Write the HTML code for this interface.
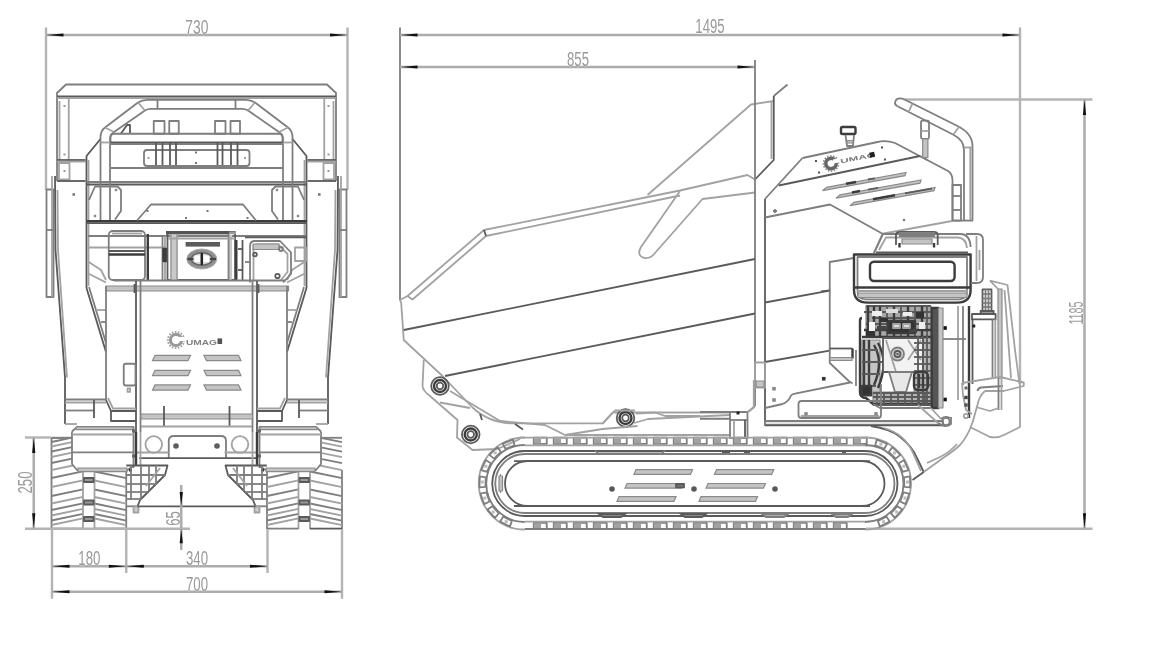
<!DOCTYPE html>
<html><head><meta charset="utf-8"><title>Dumper dimensions</title>
<style>
html,body{margin:0;padding:0;background:#fff;}
body{width:1152px;height:648px;overflow:hidden;font-family:"Liberation Sans",sans-serif;}
svg{display:block;filter:blur(0.55px);}
path,rect,circle,ellipse,polyline{fill:none;stroke-linecap:butt;stroke-linejoin:round;}
.x{stroke:#b4b4b4;stroke-width:2.4;}
.dm{stroke:#acacac;stroke-width:2.5;}
.l{stroke:#a2a2a2;stroke-width:1.8;}
.m{stroke:#7e7e7e;stroke-width:1.8;}
.d{stroke:#5a5a5a;stroke-width:1.8;}
.k{stroke:#3c3c3c;stroke-width:2.4;}
.g{stroke:#8a8a8a;stroke-width:1.2;fill:#c4c4c4;}
.ar{fill:#111;stroke:none;}
.t{font-family:"Liberation Sans",sans-serif;fill:#9a9a9a;text-anchor:middle;stroke:#fff;stroke-width:0.5;paint-order:stroke;}
</style></head><body>
<svg width="1152" height="648" viewBox="0 0 1152 648">
<path class="x" d="M46,27.5 L46,190"/>
<path class="x" d="M347.5,27.5 L347.5,190"/>
<path class="dm" d="M46,35 L347.5,35"/>
<polygon class="ar" points="46.5,35 63.5,33.4 63.5,36.6"/>
<polygon class="ar" points="347,35 330,33.4 330,36.6"/>
<text class="t" transform="translate(196.8,33.5) scale(0.69,1)" font-size="20">730</text>
<path class="m" d="M57,181 L57,93 L66,84.5 L327,84.5 L336,93 L336,181"/>
<path class="d" d="M57,96.3 L336,96.3"/>
<path class="l" d="M57,98 L336,98"/>
<path class="l" d="M68.75,98 L68.75,160"/>
<path class="l" d="M324.25,98 L324.25,160"/>
<path class="l" d="M59.5,101 L59.5,160"/>
<path class="l" d="M333.5,101 L333.5,160"/>
<path class="d" d="M57,160 L85.5,160"/>
<path class="d" d="M336,160 L307.5,160"/>
<path class="l" d="M57,161.6 L85.5,161.6"/>
<path class="l" d="M336,161.6 L307.5,161.6"/>
<rect class="l" x="59" y="163" width="10.5" height="16.5" rx="0"/>
<rect class="l" x="323.5" y="163" width="10.5" height="16.5" rx="0"/>
<path class="d" d="M57,181 L85.5,181"/>
<path class="d" d="M336,181 L307.5,181"/>
<rect x="63.5" y="105" width="2" height="2" style="fill:#999;stroke:none"/>
<rect x="327.5" y="105" width="2" height="2" style="fill:#999;stroke:none"/>
<rect x="63.5" y="153.5" width="2" height="2" style="fill:#999;stroke:none"/>
<rect x="327.5" y="153.5" width="2" height="2" style="fill:#999;stroke:none"/>
<rect x="63.5" y="170" width="2" height="2" style="fill:#999;stroke:none"/>
<rect x="327.5" y="170" width="2" height="2" style="fill:#999;stroke:none"/>
<rect class="m" x="46.5" y="189.5" width="7" height="107.5" rx="0"/>
<rect class="m" x="339.5" y="189.5" width="7" height="107.5" rx="0"/>
<path class="l" d="M52,176 L52,297"/>
<path class="l" d="M341,176 L341,297"/>
<path class="m" d="M46.5,230 L53.5,230"/>
<path class="m" d="M346.5,230 L339.5,230"/>
<path class="d" d="M55,176 L55.5,250 L65,377.5 L65,424"/>
<path class="d" d="M338,176 L337.5,250 L328,377.5 L328,424"/>
<path class="l" d="M57.5,190 L58,250 L67,377.5"/>
<path class="l" d="M335.5,190 L335,250 L326,377.5"/>
<rect x="72.45" y="193.2" width="2.6" height="2.6" style="fill:#777;stroke:none"/>
<rect x="317.95" y="193.2" width="2.6" height="2.6" style="fill:#777;stroke:none"/>
<path class="d" d="M100.5,139 L86.5,156 L86.5,288"/>
<path class="d" d="M292.5,139 L306.5,156 L306.5,288"/>
<path class="l" d="M88.5,160 L88.5,286"/>
<path class="l" d="M304.5,160 L304.5,286"/>
<path class="d" d="M86.5,288 L106,352"/>
<path class="d" d="M306.5,288 L287,352"/>
<path class="m" d="M89,287 L106,343"/>
<path class="m" d="M304,287 L287,343"/>
<path class="l" d="M96,310 L106,310"/>
<path class="l" d="M297,310 L287,310"/>
<path class="m" d="M101,322 L106,322"/>
<path class="m" d="M292,322 L287,322"/>
<path class="m" d="M86.5,182 L306.5,182"/>
<path class="d" d="M86.5,184.5 L306.5,184.5"/>
<path class="k" d="M86.5,221.3 L306.5,221.3"/>
<path class="d" d="M86.5,223.2 L306.5,223.2"/>
<path class="m" d="M100.5,220 V137 Q100.5,131 105,127.5 L138,102.5 Q142,99.8 147,99.8 H246 Q251,99.8 255,102.5 L288,127.5 Q292.5,131 292.5,137 V220"/>
<path class="m" d="M110,220 V139 Q110,135 114,132 L145,110.5 Q147.5,108.9 151,108.9 H242 Q245.5,108.9 248,110.5 L279,132 Q283,135 283,139 V220"/>
<path class="m" d="M157.5,99.8 L157.5,108.9"/>
<path class="m" d="M235.5,99.8 L235.5,108.9"/>
<path class="l" d="M138,102.5 L145,110.5"/>
<path class="l" d="M255,102.5 L248,110.5"/>
<path class="l" d="M105,127.5 L114,132"/>
<path class="l" d="M288,127.5 L279,132"/>
<path class="l" d="M100.5,142.5 L110,142.5"/>
<path class="l" d="M292.5,142.5 L283,142.5"/>
<rect class="m" x="153.75" y="121" width="10.75" height="12.75" rx="0"/>
<rect class="m" x="169.25" y="121" width="9.5" height="12.75" rx="0"/>
<rect class="m" x="215" y="121" width="10.5" height="12.75" rx="0"/>
<rect class="m" x="230.5" y="121" width="9.5" height="12.75" rx="0"/>
<path class="d" d="M121,133.5 L127,125 H130 V133.5"/>
<path class="m" d="M110.5,142 V137 Q110.5,133.75 114,133.75 H279 Q282.5,133.75 282.5,137 V142"/>
<path class="d" d="M110.5,142.3 L282.5,142.3"/>
<path class="m" d="M110.5,144 L282.5,144"/>
<path class="m" d="M110.5,168 L282.5,168"/>
<rect class="m" x="144" y="150" width="105.5" height="16" rx="3"/>
<path class="d" d="M156,142.5 L156,165"/>
<path class="d" d="M162.5,142.5 L162.5,165"/>
<path class="d" d="M170,142.5 L170,165"/>
<path class="d" d="M176,142.5 L176,165"/>
<path class="d" d="M217.5,142.5 L217.5,165"/>
<path class="d" d="M222.5,142.5 L222.5,165"/>
<path class="d" d="M231,142.5 L231,165"/>
<path class="d" d="M237.5,142.5 L237.5,165"/>
<rect x="195" y="151.5" width="2" height="2" style="fill:#777;stroke:none"/>
<rect x="195" y="162" width="2" height="2" style="fill:#777;stroke:none"/>
<rect x="147.6" y="157.1" width="1.8" height="1.8" style="fill:#888;stroke:none"/>
<rect x="244.1" y="157.1" width="1.8" height="1.8" style="fill:#888;stroke:none"/>
<path class="m" d="M89,200 L95,186.5 L117.5,186.5 L121,190 L121,211 L115,219.5"/>
<path class="m" d="M304,200 L298,186.5 L275.5,186.5 L272,190 L272,211 L278,219.5"/>
<rect x="114.8" y="188.8" width="2.4" height="2.4" style="fill:#888;stroke:none"/>
<rect x="275.8" y="188.8" width="2.4" height="2.4" style="fill:#888;stroke:none"/>
<rect x="93.8" y="214.8" width="2.4" height="2.4" style="fill:#888;stroke:none"/>
<rect x="296.8" y="214.8" width="2.4" height="2.4" style="fill:#888;stroke:none"/>
<path class="m" d="M137,220.5 L151,204.5 L243,204.5 L256,220.5"/>
<rect x="146.5" y="210" width="2" height="2" style="fill:#777;stroke:none"/>
<rect x="206.5" y="210" width="2" height="2" style="fill:#777;stroke:none"/>
<rect x="185" y="217" width="2" height="2" style="fill:#777;stroke:none"/>
<rect x="246.5" y="217" width="2" height="2" style="fill:#777;stroke:none"/>
<path class="m" d="M88,236 L306,236"/>
<path class="l" d="M88,247.5 L165,247.5"/>
<path class="l" d="M88.75,273.75 L106,282.5"/>
<path class="l" d="M304.25,273.75 L287,282.5"/>
<path class="l" d="M88.75,262 L101,270 L106,280"/>
<path class="l" d="M304.25,262 L292,270 L287,280"/>
<rect class="m" x="108.75" y="231" width="36.25" height="49" rx="4"/>
<path class="d" d="M108.75,251 L145,251"/>
<path class="k" d="M108.75,254.5 L145,254.5"/>
<path class="l" d="M112,233.5 L142,233.5"/>
<path class="k" d="M147.8,234 L147.8,280"/>
<path class="m" d="M162.5,236 L162.5,280"/>
<path class="l" d="M165,236 L165,280"/>
<rect class="k" x="163.5" y="249" width="3" height="12" rx="0" style="fill:#444"/>
<rect class="d" x="167.5" y="232" width="67.5" height="48" rx="0"/>
<rect x="166" y="231" width="63" height="3.4" style="fill:#555;stroke:none"/>
<rect x="229" y="231.6" width="7" height="2.6" style="fill:#999;stroke:none"/>
<rect x="171.5" y="235" width="5.5" height="45" style="fill:#c9c9c9;stroke:none"/>
<rect x="228" y="235" width="4" height="45" style="fill:#c9c9c9;stroke:none"/>
<path class="l" d="M171,234 L171,280"/>
<path class="l" d="M177,234 L177,280"/>
<path class="m" d="M228.5,234 L228.5,280"/>
<path class="l" d="M168,238.5 L235,238.5"/>
<rect x="185.6" y="242" width="34.4" height="4.6" style="fill:#5c5c5c;stroke:none"/>
<ellipse cx="201.8" cy="259" rx="15" ry="10" style="fill:#909090;stroke:#aaa;stroke-width:1"/>
<ellipse cx="201.8" cy="259" rx="10.5" ry="6.2" style="fill:#d8d8d8;stroke:#666;stroke-width:1.6"/>
<rect x="194.5" y="255.5" width="5.5" height="6.5" style="fill:#fff;stroke:none"/>
<rect x="203.5" y="255.5" width="5.5" height="6.5" style="fill:#fff;stroke:none"/>
<rect x="200.6" y="253" width="2.4" height="12" style="fill:#222;stroke:none"/>
<rect x="187.5" y="257.8" width="6" height="2.4" style="fill:#444;stroke:none"/>
<rect x="210" y="257.8" width="6" height="2.4" style="fill:#444;stroke:none"/>
<path class="k" d="M236.3,240 L236.3,280"/>
<path class="d" d="M242.5,240 L242.5,280"/>
<path class="d" d="M245,237.3 L306,237.3"/>
<path class="m" d="M250,282.5 V246 Q250,241 255,241 H280 L291,252.5 V274 L283,282.5"/>
<path class="l" d="M253.5,280 V249 Q253.5,244.5 258,244.5 H278 L287.5,254 V272 L281,280"/>
<rect class="g" x="253" y="244" width="26" height="5.5" rx="0"/>
<circle class="d" cx="255" cy="254.5" r="1.8"/>
<circle class="d" cx="277.5" cy="276" r="2.2"/>
<circle class="m" cx="281" cy="249" r="2"/>
<rect class="l" x="295" y="247.5" width="11" height="13.5" rx="0"/>
<path class="m" d="M245,262 L250,262"/>
<path class="d" d="M238,249 L242,249"/>
<path class="d" d="M238,270 L242,270"/>
<path class="m" d="M114,280.5 L286,280.5"/>
<rect class="g" x="106" y="286" width="182.5" height="5" rx="0"/>
<path class="m" d="M106,286 L106,400"/>
<path class="m" d="M287,286 L287,400"/>
<path class="d" d="M136,281 L136,432"/>
<path class="m" d="M140.5,281 L140.5,432"/>
<path class="m" d="M252.5,281 L252.5,432"/>
<path class="d" d="M257,281 L257,432"/>
<path class="d" d="M134.5,284 L134.5,293"/>
<path class="d" d="M258.5,284 L258.5,293"/>
<circle cx="176" cy="340" r="5.6" fill="none" stroke="#9a9a9a" stroke-width="3.2"/>
<circle cx="176" cy="340" r="8.2" fill="none" stroke="#a0a0a0" stroke-width="1.8" stroke-dasharray="1.6 1.5"/>
<rect x="179" y="337" width="8" height="4" style="fill:#fff;stroke:none"/>
<text transform="translate(186,344.6)" font-size="6.6" font-weight="bold" fill="#808080" font-family="Liberation Sans, sans-serif" textLength="31" lengthAdjust="spacingAndGlyphs">UMAG</text>
<rect x="217.5" y="338.4" width="4.6" height="5.6" style="fill:#555;stroke:none"/>
<polygon class="g" points="155,355.4 190.5,355.4 188,360.6 152.5,360.6"/>
<polygon class="g" points="204,355.4 238.5,355.4 241,360.6 206.5,360.6"/>
<polygon class="g" points="155,370.4 190.5,370.4 188,375.6 152.5,375.6"/>
<polygon class="g" points="204,370.4 238.5,370.4 241,375.6 206.5,375.6"/>
<polygon class="g" points="155,384.9 190.5,384.9 188,390.1 152.5,390.1"/>
<polygon class="g" points="204,384.9 238.5,384.9 241,390.1 206.5,390.1"/>
<rect class="m" x="123.75" y="363.75" width="11.75" height="21.75" rx="2"/>
<rect class="l" x="127.5" y="388.5" width="2.6" height="3.4" rx="0"/>
<rect class="g" x="141" y="414" width="111.5" height="5" rx="0"/>
<path class="d" d="M164,406 L164,426"/>
<path class="d" d="M229.5,406 L229.5,426"/>
<path class="l" d="M141,426.5 L252,426.5"/>
<path class="d" d="M106,400 L111,411 L136,411"/>
<path class="d" d="M287,400 L282,411 L257,411"/>
<path class="d" d="M111,411 L111,421 L136,421"/>
<path class="d" d="M282,411 L282,421 L257,421"/>
<path class="l" d="M108,398 L113,408.5 L136,408.5"/>
<path class="l" d="M285,398 L280,408.5 L257,408.5"/>
<path class="m" d="M65,399.5 L106,399.5"/>
<path class="m" d="M328,399.5 L287,399.5"/>
<path class="l" d="M65,402.5 L106,402.5"/>
<path class="l" d="M328,402.5 L287,402.5"/>
<path class="m" d="M65,410.5 L94,410.5"/>
<path class="m" d="M328,410.5 L299,410.5"/>
<path class="d" d="M94,400 L94,418"/>
<path class="d" d="M299,400 L299,418"/>
<path class="l" d="M65,424 L77,424"/>
<path class="l" d="M328,424 L316,424"/>
<path class="m" d="M51.5,437.5 L51.5,529"/>
<path class="m" d="M126.25,470 L126.25,529"/>
<path class="m" d="M51.5,437.8 L72,437.8"/>
<path class="m" d="M51.5,442 L72,437.695"/>
<path class="l" d="M51.5,446.5 L72,442.195"/>
<path class="m" d="M51.5,451.5 L72,447.195"/>
<path class="l" d="M51.5,457 L72,452.695"/>
<path class="m" d="M51.5,463 L72,458.695"/>
<path class="l" d="M51.5,470 L83,463.385"/>
<path class="l" d="M94.5,463.5 L126.25,470.168"/>
<path class="m" d="M51.5,478 L83,471.385"/>
<path class="m" d="M94.5,471.5 L126.25,478.168"/>
<path class="l" d="M51.5,487 L83,480.385"/>
<path class="l" d="M94.5,480.5 L126.25,487.168"/>
<path class="m" d="M51.5,496 L83,489.385"/>
<path class="m" d="M94.5,489.5 L126.25,496.168"/>
<path class="l" d="M51.5,503.5 L83,496.885"/>
<path class="l" d="M94.5,497 L126.25,503.668"/>
<path class="m" d="M51.5,510 L83,503.385"/>
<path class="m" d="M94.5,503.5 L126.25,510.168"/>
<path class="l" d="M51.5,515.5 L83,508.885"/>
<path class="l" d="M94.5,509 L126.25,515.668"/>
<path class="m" d="M51.5,520.5 L83,513.885"/>
<path class="m" d="M94.5,514 L126.25,520.668"/>
<path class="l" d="M51.5,525 L83,518.385"/>
<path class="l" d="M94.5,518.5 L126.25,525.168"/>
<path class="l" d="M83,472 L83,529"/>
<path class="l" d="M94.5,472 L94.5,529"/>
<rect class="d" x="84" y="478" width="9.5" height="4" rx="0" style="fill:#999"/>
<rect class="d" x="84" y="500.5" width="9.5" height="4" rx="0" style="fill:#999"/>
<rect class="d" x="84" y="517" width="9.5" height="4" rx="0" style="fill:#999"/>
<path class="m" d="M51.5,528.6 L83,528.6"/>
<path class="d" d="M94.5,528.6 L126.25,528.6"/>
<path class="m" d="M267,437.5 L267,529"/>
<path class="m" d="M342,470 L342,529"/>
<path class="m" d="M267,437.8 L267,437.8"/>
<path class="m" d="M322,438.02 L342,442.22"/>
<path class="l" d="M322,442.52 L342,446.72"/>
<path class="m" d="M322,447.52 L342,451.72"/>
<path class="l" d="M322,453.02 L342,457.22"/>
<path class="m" d="M322,459.02 L342,463.22"/>
<path class="l" d="M267,470 L298.5,463.385"/>
<path class="l" d="M310,463.5 L342,470.22"/>
<path class="m" d="M267,478 L298.5,471.385"/>
<path class="m" d="M310,471.5 L342,478.22"/>
<path class="l" d="M267,487 L298.5,480.385"/>
<path class="l" d="M310,480.5 L342,487.22"/>
<path class="m" d="M267,496 L298.5,489.385"/>
<path class="m" d="M310,489.5 L342,496.22"/>
<path class="l" d="M267,503.5 L298.5,496.885"/>
<path class="l" d="M310,497 L342,503.72"/>
<path class="m" d="M267,510 L298.5,503.385"/>
<path class="m" d="M310,503.5 L342,510.22"/>
<path class="l" d="M267,515.5 L298.5,508.885"/>
<path class="l" d="M310,509 L342,515.72"/>
<path class="m" d="M267,520.5 L298.5,513.885"/>
<path class="m" d="M310,514 L342,520.72"/>
<path class="l" d="M267,525 L298.5,518.385"/>
<path class="l" d="M310,518.5 L342,525.22"/>
<path class="l" d="M298.5,472 L298.5,529"/>
<path class="l" d="M310,472 L310,529"/>
<rect class="d" x="299.5" y="478" width="9.5" height="4" rx="0" style="fill:#999"/>
<rect class="d" x="299.5" y="500.5" width="9.5" height="4" rx="0" style="fill:#999"/>
<rect class="d" x="299.5" y="517" width="9.5" height="4" rx="0" style="fill:#999"/>
<path class="m" d="M267,528.6 L298.5,528.6"/>
<path class="d" d="M310,528.6 L342,528.6"/>
<path class="m" d="M322,437.8 L342,437.8"/>
<path class="m" d="M51.5,437.8 L71,437.8"/>
<polygon points="72,431.5 77,427 133.5,427 133.5,466 127.5,471.5 77,471.5 72,464" style="fill:#fff;stroke:none"/>
<polygon points="321,431.5 316,427 259.5,427 259.5,466 265.5,471.5 316,471.5 321,464" style="fill:#fff;stroke:none"/>
<path class="m" d="M72,431.5 L77,427 L133.5,427 L133.5,468"/>
<path class="m" d="M321,431.5 L316,427 L259.5,427 L259.5,468"/>
<path class="m" d="M72,431.5 L72,464 L77,470 L127.5,470 L133.5,466"/>
<path class="m" d="M321,431.5 L321,464 L316,470 L265.5,470 L259.5,466"/>
<rect class="g" x="76" y="427" width="57" height="2.6" rx="0"/>
<rect class="g" x="260" y="427" width="57" height="2.6" rx="0"/>
<rect class="g" x="78" y="468" width="49" height="3.6" rx="0"/>
<rect class="g" x="266" y="468" width="49" height="3.6" rx="0"/>
<path class="l" d="M72,434.5 L133.5,434.5"/>
<path class="l" d="M321,434.5 L259.5,434.5"/>
<path class="m" d="M72,452.3 L133.5,452.3"/>
<path class="m" d="M321,452.3 L259.5,452.3"/>
<rect x="132" y="429.5" width="3" height="3" style="fill:#666;stroke:none"/>
<rect x="258" y="429.5" width="3" height="3" style="fill:#666;stroke:none"/>
<rect x="132" y="454.5" width="3" height="3" style="fill:#666;stroke:none"/>
<rect x="258" y="454.5" width="3" height="3" style="fill:#666;stroke:none"/>
<rect x="129" y="468.5" width="3" height="3" style="fill:#333;stroke:none"/>
<rect x="261" y="468.5" width="3" height="3" style="fill:#333;stroke:none"/>
<path class="m" d="M168.75,458 V441 Q168.75,436 174,436 H221 Q226,436 226,441 V458"/>
<circle class="d" cx="176" cy="446" r="1.9" style="fill:#666"/>
<circle class="d" cx="217" cy="446" r="1.9" style="fill:#666"/>
<circle class="l" cx="153.75" cy="444.5" r="8.3"/>
<circle class="l" cx="240" cy="444.5" r="8.3"/>
<path class="d" d="M139,458.2 L256,458.2"/>
<path class="l" d="M136,452.5 L168.5,452.5"/>
<path class="l" d="M257,452.5 L224.5,452.5"/>
<path class="k" d="M136,432 L136,466"/>
<path class="k" d="M257,432 L257,466"/>
<path class="l" d="M140.5,432 L140.5,465"/>
<path class="l" d="M252.5,432 L252.5,465"/>
<path class="d" d="M126.25,465.5 L167.5,465.5 L165,475 L140,500 L137.5,506.3"/>
<path class="d" d="M266.75,465.5 L225.5,465.5 L228,475 L253,500 L255.5,506.3"/>
<path class="m" d="M137.5,506.3 L126.25,506.3"/>
<path class="m" d="M255.5,506.3 L266.75,506.3"/>
<path class="m" d="M131,465.5 L131,500"/>
<path class="m" d="M262,465.5 L262,500"/>
<path class="m" d="M141,465.5 L141,499"/>
<path class="m" d="M252,465.5 L252,499"/>
<path class="m" d="M149,465.5 L149,491"/>
<path class="m" d="M244,465.5 L244,491"/>
<path class="m" d="M156,465.5 L156,484"/>
<path class="m" d="M237,465.5 L237,484"/>
<path class="m" d="M126.25,475 L165,475"/>
<path class="m" d="M266.75,475 L228,475"/>
<path class="m" d="M126.25,484 L156,484"/>
<path class="m" d="M266.75,484 L237,484"/>
<path class="m" d="M126.25,492 L148,492"/>
<path class="m" d="M266.75,492 L245,492"/>
<path class="m" d="M126.25,499 L141,499"/>
<path class="m" d="M266.75,499 L252,499"/>
<path class="l" d="M160,468 L146,486"/>
<path class="l" d="M233,468 L247,486"/>
<rect class="l" x="133.5" y="506.5" width="5" height="6" rx="0" style="fill:#ccc"/>
<rect class="l" x="254.5" y="506.5" width="5" height="6" rx="0" style="fill:#ccc"/>
<path class="d" d="M137.5,506.3 L255.5,506.3"/>
<path class="x" d="M25,437.5 L51,437.5"/>
<path class="x" d="M25,528.75 L190,528.75"/>
<path class="dm" d="M33.75,437.5 L33.75,528.75"/>
<polygon class="ar" points="33.75,438 32.15,453 35.35,453"/>
<polygon class="ar" points="33.75,528.3 32.15,513.3 35.35,513.3"/>
<text class="t" transform="translate(31.5,482.5) rotate(-90) scale(0.66,1)" font-size="20">250</text>
<path class="dm" d="M181.25,485 L181.25,550"/>
<polygon class="ar" points="181.25,506 179.65,492 182.85,492"/>
<polygon class="ar" points="181.25,529.3 179.65,543.3 182.85,543.3"/>
<text class="t" transform="translate(180.3,518.5) rotate(-90) scale(0.66,1)" font-size="20">65</text>
<path class="x" d="M52,529 L52,598.75"/>
<path class="x" d="M126.25,529 L126.25,573"/>
<path class="x" d="M267.5,529 L267.5,573"/>
<path class="x" d="M342,529 L342,598.75"/>
<path class="dm" d="M52,566.25 L267.5,566.25"/>
<polygon class="ar" points="52.5,566.25 69.5,564.65 69.5,567.85"/>
<polygon class="ar" points="125.8,566.25 108.8,564.65 108.8,567.85"/>
<polygon class="ar" points="126.8,566.25 143.8,564.65 143.8,567.85"/>
<polygon class="ar" points="267,566.25 250,564.65 250,567.85"/>
<text class="t" transform="translate(89.3,564.8) scale(0.66,1)" font-size="20">180</text>
<text class="t" transform="translate(197,564.8) scale(0.66,1)" font-size="20">340</text>
<path class="dm" d="M52,591.75 L342,591.75"/>
<polygon class="ar" points="52.5,591.75 69.5,590.15 69.5,593.35"/>
<polygon class="ar" points="341.5,591.75 324.5,590.15 324.5,593.35"/>
<text class="t" transform="translate(197,590.8) scale(0.66,1)" font-size="20">700</text>
<path class="m" d="M400,27.5 L400,300"/>
<path class="x" d="M1020,27.5 L1020,384"/>
<path class="dm" d="M400,35 L1020,35"/>
<polygon class="ar" points="400.5,35 417.5,33.4 417.5,36.6"/>
<polygon class="ar" points="1019.5,35 1002.5,33.4 1002.5,36.6"/>
<text class="t" transform="translate(710,32.5) scale(0.66,1)" font-size="20">1495</text>
<path class="dm" d="M400,67 L755,67"/>
<polygon class="ar" points="400.5,67 417.5,65.4 417.5,68.6"/>
<polygon class="ar" points="754.5,67 737.5,65.4 737.5,68.6"/>
<text class="t" transform="translate(578,65.8) scale(0.66,1)" font-size="20">855</text>
<path class="m" d="M755,60 L755,100"/>
<path class="x" d="M905,99.5 L1092.5,99.5"/>
<path class="x" d="M866,528.75 L1092.5,528.75"/>
<path class="dm" d="M1084.5,99.5 L1084.5,528.75"/>
<polygon class="ar" points="1084.5,100 1082.9,115 1086.1,115"/>
<polygon class="ar" points="1084.5,528.3 1082.9,513.3 1086.1,513.3"/>
<text class="t" transform="translate(1083.3,313) rotate(-90) scale(0.54,1)" font-size="20">1185</text>
<path class="l" d="M400,300 L407.5,296 L484,230 L680,190.5 L747.5,175 L755,179.5"/>
<path class="l" d="M407.5,296 L412.5,299.5 L486,236 L680,195.5"/>
<path class="d" d="M484,230 L486,236"/>
<path class="l" d="M647.5,195 L751,104.5 L773.75,101"/>
<path class="m" d="M773.75,96 L787.5,84.5"/>
<path class="d" d="M773.75,96 L773.75,160 L755,179.5"/>
<path class="l" d="M771.5,101 L771.5,159"/>
<path class="l" d="M680,191 L641,247 Q636,256 645,258 Q651,258.5 655,253 L702.5,199 L755,192.5"/>
<path class="m" d="M755,100 L755,406"/>
<path class="m" d="M755,406 L748.75,411.5"/>
<path class="l" d="M400,300 L401.2,303 L403.75,340 L442.5,376 L472.5,407.5 Q488,422 510,423.3 H602.5 L612.5,412.5 H730"/>
<path class="d" d="M403.75,330 L755,259"/>
<path class="d" d="M445,376 L755,313.5"/>
<circle class="d" cx="440" cy="386" r="8.8"/>
<circle class="k" cx="440" cy="386" r="6"/>
<circle class="d" cx="440" cy="386" r="3.3"/>
<circle class="d" cx="470.75" cy="434.5" r="8.8"/>
<circle class="k" cx="470.75" cy="434.5" r="6"/>
<circle class="d" cx="470.75" cy="434.5" r="3.3"/>
<circle class="d" cx="625.5" cy="418" r="8.8"/>
<circle class="k" cx="625.5" cy="418" r="6"/>
<circle class="d" cx="625.5" cy="418" r="3.3"/>
<path class="l" d="M423.75,360 L422.5,386 Q423,391 430,396 L457.5,420 L457,437.5 L472.5,450 L497.5,449"/>
<path class="l" d="M450,391 L500,421 L545,425 L565,435 L602.5,429 L637.5,426"/>
<path class="l" d="M440,402.5 L470,408"/>
<path class="d" d="M480,414 L482,420"/>
<path class="d" d="M515,424 L523,429.5"/>
<path class="l" d="M497.5,449 L520,439"/>
<path class="l" d="M602.5,424 L615,410.5 H635"/>
<path class="l" d="M636,413.5 L655,412.5 L665,416 H700"/>
<path class="l" d="M634,423 L648,419 L730,415"/>
<path class="l" d="M565,435 L730,435"/>
<path class="d" d="M765,199 L765,425"/>
<path class="m" d="M765,199 L802.5,158"/>
<path class="m" d="M802.5,158 L877.5,142 Q886,140 895,143 L948,171 Q952.5,174 952.5,180 V220.6"/>
<path class="d" d="M778.75,185.5 L920,156"/>
<path class="m" d="M765,217.5 L830,204.5 L882.5,233.75"/>
<path class="m" d="M773,211 H777 M775,209 V213"/>
<path class="m" d="M920,156 L927.5,160"/>
<polygon class="g" points="822.5,190.6 905,175.6 906,172.4 826.5,187.4"/>
<polygon class="g" points="836,198.1 920,183.1 921,179.9 840,194.9"/>
<polygon class="g" points="850,205.6 934,190.6 935,187.4 854,202.4"/>
<path class="k" d="M846,183.8 L856,182"/>
<path class="d" d="M868,179.5 L875,178.3"/>
<path class="k" d="M852,192.5 L860,191"/>
<path class="d" d="M868,189.7 L878,187.9"/>
<path class="k" d="M873,199.2 L895,195.2"/>
<path class="d" d="M905,193.4 L932,188.6"/>
<g transform="translate(831,163.5) rotate(-11)">
<circle cx="0" cy="0" r="5.2" fill="none" stroke="#666" stroke-width="3.6"/>
<circle cx="0" cy="0" r="7.6" fill="none" stroke="#888" stroke-width="1.6" stroke-dasharray="1.5 1.5"/>
<rect x="2.5" y="-3.6" width="7" height="4.2" style="fill:#fff;stroke:none"/>
<text x="9.5" y="1.8" font-size="6" font-weight="bold" fill="#777" font-family="Liberation Sans, sans-serif" textLength="36" lengthAdjust="spacingAndGlyphs">UMAG</text>
<rect x="39.5" y="-3.2" width="5" height="5" style="fill:#222;stroke:none"/>
</g>
<rect x="815" y="160" width="2" height="2" style="fill:#555;stroke:none"/>
<rect x="818" y="171.5" width="2" height="2" style="fill:#555;stroke:none"/>
<rect x="881" y="146.5" width="2" height="2" style="fill:#555;stroke:none"/>
<rect x="884" y="158.5" width="2" height="2" style="fill:#555;stroke:none"/>
<rect x="902.9" y="218.9" width="2.2" height="2.2" style="fill:#777;stroke:none"/>
<rect class="k" x="841" y="127" width="14.5" height="7" rx="1.5"/>
<path class="m" d="M845.5,135 L847,146 H853 L854,135"/>
<rect class="g" x="847" y="140.5" width="6" height="2.5" rx="0"/>
<rect class="m" x="921" y="120.6" width="8" height="18.2" rx="1.5"/>
<path class="l" d="M921,131 L929,131"/>
<rect class="g" x="922.7" y="139" width="5.2" height="18.5" rx="0"/>
<path class="m" d="M905,99.7 L957.5,126 Q972.5,133.5 972.5,146 V220.6"/>
<path class="m" d="M897.5,106.3 L953,134.5 Q964,140 964,150 V220.6"/>
<path class="m" d="M905,99.7 Q897.5,96.5 895.5,101 Q894,104.5 897.5,106.3"/>
<path class="l" d="M912.5,103.5 L908.5,111.8"/>
<path class="l" d="M959,126.8 L953.5,134.5"/>
<path class="l" d="M964,147.5 L972.5,147.5"/>
<path class="l" d="M970.3,148 L970.3,220.6"/>
<rect class="m" x="952.5" y="185" width="8.5" height="35.6" rx="0"/>
<path class="m" d="M952.5,196 L961,196"/>
<path class="m" d="M952.5,210 L961,210"/>
<path class="m" d="M952,220.6 L973,220.6"/>
<path class="l" d="M882.5,233.75 L952,221"/>
<path class="d" d="M765,302.5 L829.75,290.6"/>
<path class="d" d="M765,362 L829.75,350.6"/>
<path class="m" d="M854,258 L829.75,262 L829.75,363 L848.75,381 L852.5,383.5"/>
<path class="d" d="M821,291.5 L829.75,290.3"/>
<rect class="l" x="755" y="362.5" width="10" height="25" rx="0"/>
<rect class="g" x="756" y="381" width="8" height="6" rx="0"/>
<path class="d" d="M829.75,348.5 L852.5,348.5"/>
<path class="k" d="M852.5,348.5 L852.5,358.5"/>
<rect class="g" x="830" y="357.5" width="22" height="3" rx="0"/>
<path class="m" d="M856,350 L856,386"/>
<rect x="772.2" y="386.95" width="3.6" height="3.6" style="fill:#888;stroke:none"/>
<rect x="772.2" y="398.2" width="3.6" height="3.6" style="fill:#888;stroke:none"/>
<rect x="821.95" y="376.95" width="3.6" height="3.6" style="fill:#333;stroke:none"/>
<path class="m" d="M765,408 L782.5,404 Q788.5,402 791,395.5 Q792.5,393.9 795,393.6 L850,382.5"/>
<path class="l" d="M882.5,233.75 L873.7,253.6"/>
<path class="k" d="M854,254.5 H970.6 V290 Q970.6,302.6 957,302.6 H867.6 Q854,302.6 854,290 Z"/>
<path class="m" d="M857.5,257 H967 V291 Q967,299.3 959,299.3 H865.5 Q857.5,299.3 857.5,291 Z"/>
<rect class="k" x="870" y="261.7" width="84.6" height="19.3" rx="4"/>
<path class="k" d="M854,287.5 L970.6,287.5"/>
<path class="l" d="M857,291 L968,291"/>
<rect class="g" x="858" y="293" width="109" height="4.5" rx="0"/>
<path class="m" d="M873.7,253.6 L883,234 H960 Q970,234 970.6,247"/>
<path class="l" d="M879,250 L886,237.5 H958 Q966,238 967,248"/>
<path class="d" d="M876,252.3 L968,252.3"/>
<path class="d" d="M896,245 V235 Q896,231.8 900,231.8 H934 Q937.7,231.8 937.7,235 V245"/>
<path class="m" d="M899,236 L935,236"/>
<rect class="g" x="902" y="239" width="30" height="5" rx="0"/>
<path class="k" d="M899.5,243 L899.5,247.5"/>
<path class="k" d="M934,243 L934,247.5"/>
<path class="m" d="M966,234 H977 Q983,234 983,240 V277 Q983,283 977,283 H971"/>
<path class="l" d="M976.5,236 L976.5,281"/>
<path class="l" d="M979.5,250 L979.5,270"/>
<rect class="d" x="982.5" y="289.4" width="9" height="21.6" rx="0"/>
<path class="m" d="M985.5,289.4 L985.5,311"/>
<path class="m" d="M988.5,289.4 L988.5,311"/>
<path class="m" d="M982.5,294 L991.5,294"/>
<path class="m" d="M982.5,298.5 L991.5,298.5"/>
<path class="m" d="M982.5,303 L991.5,303"/>
<path class="m" d="M982.5,307 L991.5,307"/>
<rect class="d" x="980.6" y="311" width="13" height="3" rx="0" style="fill:#999"/>
<rect class="d" x="972" y="314" width="23.6" height="5.4" rx="0"/>
<path class="k" d="M969,306 L969,418"/>
<path class="d" d="M972.5,319.4 L972.5,384"/>
<path class="m" d="M992.5,319.4 L992.5,377"/>
<path class="l" d="M995.3,319.4 L995.3,377"/>
<path class="l" d="M990,280.6 L1007.5,285 L1015,350 L1019.5,384"/>
<path class="l" d="M990,280.6 L998,289"/>
<rect class="g" x="998" y="289" width="4" height="89" rx="0"/>
<path class="l" d="M1004.5,290 L1011,378"/>
<path class="l" d="M958,306 L958,400"/>
<path class="m" d="M963,306 L963,385"/>
<path class="m" d="M943,339 L966,339"/>
<rect x="943.2" y="326.2" width="3.6" height="3.6" style="fill:#111;stroke:none"/>
<rect x="943.2" y="397.7" width="3.6" height="3.6" style="fill:#111;stroke:none"/>
<rect x="972.25" y="324.5" width="3" height="3" style="fill:#222;stroke:none"/>
<rect class="g" x="866" y="306" width="65" height="31" rx="0" style="fill:#a8a8a8"/>
<rect class="g" x="914" y="337" width="17" height="68" rx="0" style="fill:#b8b8b8"/>
<rect class="g" x="862" y="340" width="18" height="56" rx="0" style="fill:#c4c4c4"/>
<rect class="g" x="873" y="392" width="58" height="13" rx="0" style="fill:#b4b4b4"/>
<rect class="k" x="931.7" y="308" width="6.6" height="100" rx="0" style="fill:#555"/>
<rect class="g" x="938.3" y="308" width="4.7" height="100" rx="0"/>
<path class="k" d="M862,318 Q860,318 860,321 V392 Q860,398 866,398 L873,404 H931"/>
<path class="d" d="M866,306 H931 M864,312 H931 M872,318 H931 M866,324 H931"/>
<path class="k" d="M868,306 L868,336"/>
<path class="k" d="M874,306 L874,336"/>
<path class="k" d="M880,306 L880,336"/>
<path class="d" d="M887,306 L887,336"/>
<path class="k" d="M894,306 L894,336"/>
<path class="d" d="M901,306 L901,336"/>
<path class="k" d="M908,306 L908,336"/>
<path class="d" d="M915,306 L915,336"/>
<path class="k" d="M922,306 L922,336"/>
<path class="d" d="M927,306 L927,336"/>
<path class="k" d="M864,330 H931 M862,337 H931"/>
<rect class="k" x="888" y="321" width="27" height="12" rx="0" style="fill:#333"/>
<rect class="l" x="893" y="324" width="7" height="4" rx="0" style="fill:#ddd"/>
<rect class="l" x="903" y="324" width="7" height="4" rx="0" style="fill:#ddd"/>
<rect x="872" y="311" width="10" height="5" style="fill:#eee;stroke:none"/>
<rect x="886" y="309" width="12" height="4" style="fill:#ddd;stroke:none"/>
<rect x="903" y="312" width="9" height="4" style="fill:#eee;stroke:none"/>
<rect x="869" y="322" width="6" height="9" style="fill:#f4f4f4;stroke:none"/>
<rect x="880" y="318" width="8" height="4" style="fill:#333;stroke:none"/>
<rect x="916" y="312" width="8" height="6" style="fill:#333;stroke:none"/>
<rect x="919" y="322" width="6" height="7" style="fill:#eee;stroke:none"/>
<rect x="877" y="326" width="9" height="5" style="fill:#444;stroke:none"/>
<rect x="866" y="331" width="8" height="5" style="fill:#333;stroke:none"/>
<rect x="909" y="329" width="8" height="4" style="fill:#444;stroke:none"/>
<path class="k" d="M864,340 V394 M869,340 V396 M874,345 Q884,362 874,385 M878,343 Q889,362 878,388"/>
<path class="d" d="M862,350 H878 M862,362 H882 M862,374 H880 M862,386 H876"/>
<rect class="k" x="862" y="386" width="9" height="9" rx="0" style="fill:#333"/>
<rect class="d" x="883" y="338" width="40" height="34" rx="0" style="fill:#f2f2f2"/>
<circle class="m" cx="897.5" cy="354" r="6.5" style="fill:#ccc"/>
<circle class="d" cx="897.5" cy="354" r="3"/>
<rect x="896.5" y="353" width="2" height="2" style="fill:#555;stroke:none"/>
<path class="l" d="M886,340 L896,372 M908,340 L921,360 M921,340 L908,360"/>
<path class="m" d="M889,372 H912 L906,392 H895 Z" style="fill:#e8e8e8"/>
<path class="d" d="M918,336 L918,404"/>
<path class="d" d="M923,336 L923,404"/>
<path class="d" d="M927,336 L927,404"/>
<path class="d" d="M914,343 L931,343"/>
<path class="d" d="M914,350 L931,350"/>
<path class="d" d="M914,357 L931,357"/>
<path class="d" d="M914,364 L931,364"/>
<path class="d" d="M914,371 L931,371"/>
<path class="d" d="M914,378 L931,378"/>
<path class="d" d="M914,385 L931,385"/>
<rect class="k" x="914" y="372" width="14" height="18" rx="4"/>
<path class="k" d="M919,374 L919,388"/>
<path class="k" d="M923,374 L923,388"/>
<path class="d" d="M877,392 L877,405"/>
<path class="d" d="M884,392 L884,405"/>
<path class="d" d="M891,392 L891,405"/>
<path class="d" d="M898,392 L898,405"/>
<path class="d" d="M905,392 L905,405"/>
<path class="d" d="M912,392 L912,405"/>
<path class="d" d="M919,392 L919,405"/>
<path class="d" d="M925,392 L925,405"/>
<path class="d" d="M873,393 L931,393"/>
<path class="d" d="M873,397 L931,397"/>
<path class="d" d="M873,401 L931,401"/>
<path class="d" d="M873,405 L931,405"/>
<path class="m" d="M873,404 L880,408 H931"/>
<path class="m" d="M730,412 H700 M730,418.75 H700"/>
<rect class="m" x="730" y="412" width="17.5" height="26" rx="0"/>
<path class="m" d="M730,420 L747.5,420"/>
<path class="d" d="M745,420 L745,438"/>
<rect x="736.5" y="411.5" width="3" height="3" style="fill:#222;stroke:none"/>
<path class="l" d="M734,420 L734,438"/>
<path class="l" d="M753.75,380 L753.75,407.5 L747.5,412"/>
<rect class="m" x="765" y="421" width="178" height="4.2" rx="0" style="fill:#e4e4e4"/>
<path class="d" d="M765,425.3 L945,425.3"/>
<rect class="m" x="798.5" y="401" width="82.5" height="17" rx="3"/>
<path class="l" d="M801,416 L879,416"/>
<rect x="804.3" y="412.1" width="3.4" height="3.4" style="fill:#888;stroke:none"/>
<rect x="874.3" y="412.1" width="3.4" height="3.4" style="fill:#888;stroke:none"/>
<path class="m" d="M881,384 L881,410"/>
<path class="l" d="M931,408 L941,419 M918,405 L938,423"/>
<circle class="m" cx="946" cy="421.5" r="3.6"/>
<path class="m" d="M941,419 Q945,415.5 950,418 M938,423 Q945,428.5 951,424 L951,417"/>
<path class="d" d="M871,426 Q890,429 899,436 Q912,446 917,458 L923.75,472"/>
<path class="l" d="M884,428 Q905,434 913,453 L921,471"/>
<path class="d" d="M923.75,472 L912.5,480"/>
<path class="l" d="M923.75,472 L943.75,457.5 Q955,450 960,445 Q968,436 972.5,422.5 L977.5,405 Q979,396 985,391"/>
<path class="l" d="M927,463 L940,457 Q950,452 957,444"/>
<path class="l" d="M962,383 L1000,377 L1023.75,382.5 V386 L1003.75,391 L985,391"/>
<path class="l" d="M962,383 L963,395 L966,410 L972,414"/>
<circle class="l" cx="966" cy="416" r="2.2"/>
<rect x="964.5" y="386.5" width="3" height="3" style="fill:#666;stroke:none"/>
<rect x="964.3" y="395.8" width="3.4" height="3.4" style="fill:#444;stroke:none"/>
<rect x="964.3" y="403.3" width="3.4" height="3.4" style="fill:#555;stroke:none"/>
<path class="m" d="M977.5,391 Q978,388 981,387.5 L1003,386"/>
<path class="m" d="M998.5,378 L998.5,410"/>
<path class="l" d="M1001.5,378 L1001.5,410"/>
<path class="l" d="M976,407 L990,411 L998.5,408"/>
<path class="l" d="M1020,384 V427 L1005,434.5 Q998,438.5 990,437 L970,427"/>
<rect class="m" x="533.75" y="437.7" width="13" height="6.2" rx="0"/>
<rect x="534.55" y="438.5" width="6.5" height="5" style="fill:#a2a2a2;stroke:none"/>
<rect class="m" x="553.75" y="437.7" width="13" height="6.2" rx="0"/>
<rect x="554.55" y="438.5" width="6.5" height="5" style="fill:#a2a2a2;stroke:none"/>
<rect class="m" x="573.75" y="437.7" width="13" height="6.2" rx="0"/>
<rect x="574.55" y="438.5" width="6.5" height="5" style="fill:#a2a2a2;stroke:none"/>
<rect class="m" x="593.75" y="437.7" width="13" height="6.2" rx="0"/>
<rect x="594.55" y="438.5" width="6.5" height="5" style="fill:#a2a2a2;stroke:none"/>
<rect class="m" x="613.75" y="437.7" width="13" height="6.2" rx="0"/>
<rect x="614.55" y="438.5" width="6.5" height="5" style="fill:#a2a2a2;stroke:none"/>
<rect class="m" x="633.75" y="437.7" width="13" height="6.2" rx="0"/>
<rect x="634.55" y="438.5" width="6.5" height="5" style="fill:#a2a2a2;stroke:none"/>
<rect class="m" x="653.75" y="437.7" width="13" height="6.2" rx="0"/>
<rect x="654.55" y="438.5" width="6.5" height="5" style="fill:#a2a2a2;stroke:none"/>
<rect class="m" x="673.75" y="437.7" width="13" height="6.2" rx="0"/>
<rect x="674.55" y="438.5" width="6.5" height="5" style="fill:#a2a2a2;stroke:none"/>
<rect class="m" x="693.75" y="437.7" width="13" height="6.2" rx="0"/>
<rect x="694.55" y="438.5" width="6.5" height="5" style="fill:#a2a2a2;stroke:none"/>
<rect class="m" x="713.75" y="437.7" width="13" height="6.2" rx="0"/>
<rect x="714.55" y="438.5" width="6.5" height="5" style="fill:#a2a2a2;stroke:none"/>
<rect class="m" x="733.75" y="437.7" width="13" height="6.2" rx="0"/>
<rect x="734.55" y="438.5" width="6.5" height="5" style="fill:#a2a2a2;stroke:none"/>
<rect class="m" x="753.75" y="437.7" width="13" height="6.2" rx="0"/>
<rect x="754.55" y="438.5" width="6.5" height="5" style="fill:#a2a2a2;stroke:none"/>
<rect class="m" x="773.75" y="437.7" width="13" height="6.2" rx="0"/>
<rect x="774.55" y="438.5" width="6.5" height="5" style="fill:#a2a2a2;stroke:none"/>
<rect class="m" x="793.75" y="437.7" width="13" height="6.2" rx="0"/>
<rect x="794.55" y="438.5" width="6.5" height="5" style="fill:#a2a2a2;stroke:none"/>
<rect class="m" x="813.75" y="437.7" width="13" height="6.2" rx="0"/>
<rect x="814.55" y="438.5" width="6.5" height="5" style="fill:#a2a2a2;stroke:none"/>
<rect class="m" x="833.75" y="437.7" width="13" height="6.2" rx="0"/>
<rect x="834.55" y="438.5" width="6.5" height="5" style="fill:#a2a2a2;stroke:none"/>
<rect class="m" x="853.75" y="437.7" width="13" height="6.2" rx="0"/>
<rect x="854.55" y="438.5" width="6.5" height="5" style="fill:#a2a2a2;stroke:none"/>
<rect class="m" x="533.75" y="522.8" width="13" height="6.2" rx="0"/>
<rect x="534.55" y="523.4" width="6.5" height="5" style="fill:#a2a2a2;stroke:none"/>
<rect class="m" x="553.75" y="522.8" width="13" height="6.2" rx="0"/>
<rect x="554.55" y="523.4" width="6.5" height="5" style="fill:#a2a2a2;stroke:none"/>
<rect class="m" x="573.75" y="522.8" width="13" height="6.2" rx="0"/>
<rect x="574.55" y="523.4" width="6.5" height="5" style="fill:#a2a2a2;stroke:none"/>
<rect class="m" x="593.75" y="522.8" width="13" height="6.2" rx="0"/>
<rect x="594.55" y="523.4" width="6.5" height="5" style="fill:#a2a2a2;stroke:none"/>
<rect class="m" x="613.75" y="522.8" width="13" height="6.2" rx="0"/>
<rect x="614.55" y="523.4" width="6.5" height="5" style="fill:#a2a2a2;stroke:none"/>
<rect class="m" x="633.75" y="522.8" width="13" height="6.2" rx="0"/>
<rect x="634.55" y="523.4" width="6.5" height="5" style="fill:#a2a2a2;stroke:none"/>
<rect class="m" x="653.75" y="522.8" width="13" height="6.2" rx="0"/>
<rect x="654.55" y="523.4" width="6.5" height="5" style="fill:#a2a2a2;stroke:none"/>
<rect class="m" x="673.75" y="522.8" width="13" height="6.2" rx="0"/>
<rect x="674.55" y="523.4" width="6.5" height="5" style="fill:#a2a2a2;stroke:none"/>
<rect class="m" x="693.75" y="522.8" width="13" height="6.2" rx="0"/>
<rect x="694.55" y="523.4" width="6.5" height="5" style="fill:#a2a2a2;stroke:none"/>
<rect class="m" x="713.75" y="522.8" width="13" height="6.2" rx="0"/>
<rect x="714.55" y="523.4" width="6.5" height="5" style="fill:#a2a2a2;stroke:none"/>
<rect class="m" x="733.75" y="522.8" width="13" height="6.2" rx="0"/>
<rect x="734.55" y="523.4" width="6.5" height="5" style="fill:#a2a2a2;stroke:none"/>
<rect class="m" x="753.75" y="522.8" width="13" height="6.2" rx="0"/>
<rect x="754.55" y="523.4" width="6.5" height="5" style="fill:#a2a2a2;stroke:none"/>
<rect class="m" x="773.75" y="522.8" width="13" height="6.2" rx="0"/>
<rect x="774.55" y="523.4" width="6.5" height="5" style="fill:#a2a2a2;stroke:none"/>
<rect class="m" x="793.75" y="522.8" width="13" height="6.2" rx="0"/>
<rect x="794.55" y="523.4" width="6.5" height="5" style="fill:#a2a2a2;stroke:none"/>
<rect class="m" x="813.75" y="522.8" width="13" height="6.2" rx="0"/>
<rect x="814.55" y="523.4" width="6.5" height="5" style="fill:#a2a2a2;stroke:none"/>
<rect class="m" x="833.75" y="522.8" width="13" height="6.2" rx="0"/>
<rect x="834.55" y="523.4" width="6.5" height="5" style="fill:#a2a2a2;stroke:none"/>
<path class="l" d="M520,437.7 L868,437.7"/>
<path class="m" d="M524.75,529 L866,529"/>
<path class="l" d="M524.75,445.3 L868,445.3"/>
<path class="l" d="M524.75,521.7 L866,521.7"/>
<path class="l" d="M524.75,437.5 A46,46 0 0 0 524.75,529.5"/>
<path class="l" d="M865,437.5 A46,46 0 0 1 865,529.5"/>
<path class="m" d="M524.75,445 A38.5,38.5 0 0 0 524.75,522"/>
<path class="m" d="M865,445 A38.5,38.5 0 0 1 865,522"/>
<path class="m" d="M514.527,445.346 L512.974,439.55 L502.691,443.705 L505.6,448.953 Z"/>
<rect x="507.329" y="442.595" width="3" height="3" style="fill:#bbb;stroke:none"/>
<path class="m" d="M500.978,451.954 L497.367,447.162 L489.39,454.866 L494.053,458.642 Z"/>
<rect x="493.727" y="451.428" width="3" height="3" style="fill:#bbb;stroke:none"/>
<path class="m" d="M490.892,463.156 L485.749,460.066 L481.238,470.197 L486.976,471.951 Z"/>
<rect x="484.424" y="464.714" width="3" height="3" style="fill:#bbb;stroke:none"/>
<path class="m" d="M485.736,477.321 L479.81,476.382 L479.423,487.466 L485.4,486.943 Z"/>
<rect x="480.776" y="480.517" width="3" height="3" style="fill:#bbb;stroke:none"/>
<path class="m" d="M486.262,492.386 L480.416,493.735 L484.209,504.157 L489.555,501.433 Z"/>
<rect x="483.313" y="496.536" width="3" height="3" style="fill:#bbb;stroke:none"/>
<path class="m" d="M492.393,506.156 L487.479,509.598 L494.899,517.839 L498.836,513.311 Z"/>
<rect x="491.666" y="510.438" width="3" height="3" style="fill:#bbb;stroke:none"/>
<path class="m" d="M503.237,516.627 L499.969,521.66 L509.937,526.521 L511.89,520.848 Z"/>
<rect x="504.619" y="520.199" width="3" height="3" style="fill:#bbb;stroke:none"/>
<path class="m" d="M875.223,445.346 L876.776,439.55 L887.059,443.705 L884.15,448.953 Z"/>
<rect x="879.421" y="442.595" width="3" height="3" style="fill:#bbb;stroke:none"/>
<path class="m" d="M888.772,451.954 L892.383,447.162 L900.36,454.866 L895.697,458.642 Z"/>
<rect x="893.023" y="451.428" width="3" height="3" style="fill:#bbb;stroke:none"/>
<path class="m" d="M898.858,463.156 L904.001,460.066 L908.512,470.197 L902.774,471.951 Z"/>
<rect x="902.326" y="464.714" width="3" height="3" style="fill:#bbb;stroke:none"/>
<path class="m" d="M904.014,477.321 L909.94,476.382 L910.327,487.466 L904.35,486.943 Z"/>
<rect x="905.974" y="480.517" width="3" height="3" style="fill:#bbb;stroke:none"/>
<path class="m" d="M903.488,492.386 L909.334,493.735 L905.541,504.157 L900.195,501.433 Z"/>
<rect x="903.437" y="496.536" width="3" height="3" style="fill:#bbb;stroke:none"/>
<path class="m" d="M897.357,506.156 L902.271,509.598 L894.851,517.839 L890.914,513.311 Z"/>
<rect x="895.084" y="510.438" width="3" height="3" style="fill:#bbb;stroke:none"/>
<path class="m" d="M886.513,516.627 L889.781,521.66 L879.813,526.521 L877.86,520.848 Z"/>
<rect x="882.131" y="520.199" width="3" height="3" style="fill:#bbb;stroke:none"/>
<path class="d" d="M524.75,451 H865 A32.5,32.5 0 0 1 865,516 H524.75 A32.5,32.5 0 0 1 524.75,451 Z"/>
<path class="m" d="M524.75,454 H865 A29.5,29.5 0 0 1 865,513 H524.75 A29.5,29.5 0 0 1 524.75,454 Z"/>
<path class="d" d="M527.5,461 H862 A22.5,22.5 0 0 1 862,506 H527.5 A22.5,22.5 0 0 1 527.5,461 Z"/>
<path class="d" d="M514,461.2 L870,461.2"/>
<path class="d" d="M514,506 L870,506"/>
<path class="g" d="M500.5,474 V493"/>
<rect class="g" x="499" y="476" width="3.5" height="15" rx="0"/>
<polygon class="g" points="636,469.7 692.5,469.7 690.5,474.3 634,474.3"/>
<polygon class="g" points="627,483.5 684,483.5 682,488.1 625,488.1"/>
<polygon class="g" points="619,496.7 676,496.7 674,501.3 617,501.3"/>
<polygon class="g" points="716.5,469.7 773.75,469.7 771.75,474.3 714.5,474.3"/>
<polygon class="g" points="708,483.5 765.5,483.5 763.5,488.1 706,488.1"/>
<polygon class="g" points="701,496.7 757.5,496.7 755.5,501.3 699,501.3"/>
<rect class="d" x="676" y="484" width="8" height="3.4" rx="0" style="fill:#777"/>
<circle class="d" cx="612" cy="489" r="1.9" style="fill:#555"/>
<circle class="d" cx="694" cy="489" r="1.9" style="fill:#555"/>
<circle class="d" cx="775" cy="489" r="1.9" style="fill:#555"/>
<polygon class="d" style="fill:#888" points="599,514 625,514 621,517 603,517"/>
<polygon class="d" style="fill:#888" points="681,514 706,514 702,517 685,517"/>
<polygon class="m" style="fill:#aaa" points="762,514 788,514 784,517 766,517"/>
<polygon class="m" style="fill:#aaa" points="832,514 852,514 848,517 836,517"/>
<path class="m" d="M595,450.3 L598,453.3 H662 L665,450.3"/>
<path class="d" d="M722,452 H730 M744,452 H750 M842,452 H846"/>
</svg>
</body></html>
